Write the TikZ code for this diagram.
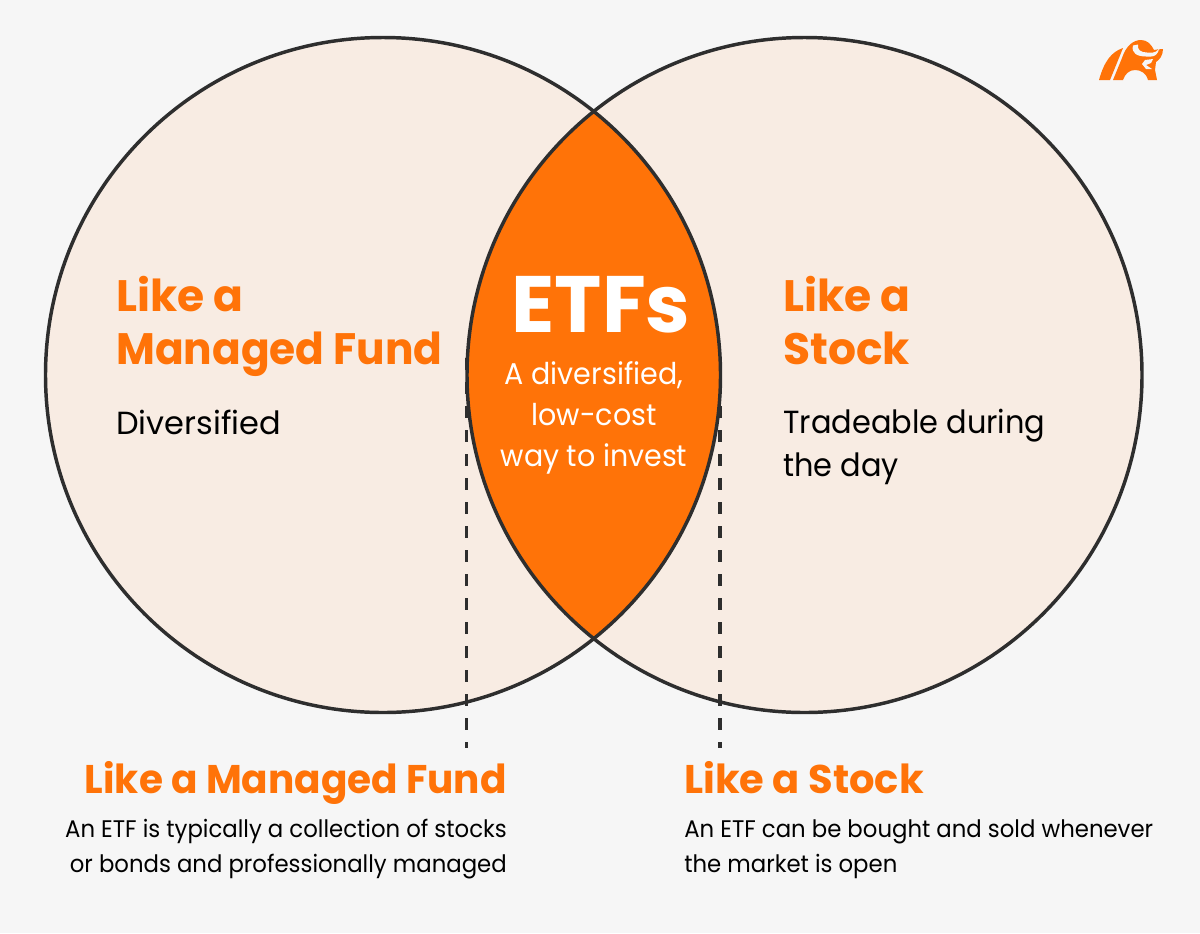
\documentclass[tikz,border=0pt]{standalone}
\usepackage{fontspec}
\setmainfont{Poppins}
\newfontfamily\headfont[FakeStretch=.962]{Poppins}
\newfontfamily\capfont[FakeStretch=.975]{Poppins}
\newfontfamily\copyfont[FakeStretch=.95]{Poppins}
\usetikzlibrary{positioning}
\definecolor{bgpage}{HTML}{F6F6F6}
\definecolor{beige}{HTML}{F8ECE3}
\definecolor{etforange}{HTML}{FF7308}
\definecolor{ink}{HTML}{2E2E2E}

\begin{document}
\begin{tikzpicture}[
		x=.75pt, y=-.75pt
		,venn/.style={circle, minimum size=506.25pt, inner sep=0pt, outer sep=0pt}
		,rim/.style={ink, line width=2.6pt}
		,guide/.style={ink, line width=2.6pt, dash pattern=on 9pt off 9pt}
		,head/.style={etforange, font=\headfont\bfseries\fontsize{33}{39.7}\selectfont, inner sep=0pt}
		,body/.style={black, font=\copyfont\fontsize{24}{32}\selectfont, inner sep=0pt}
		,caption/.style={etforange, font=\capfont\bfseries\fontsize{30}{36}\selectfont, inner sep=0pt}
		,note/.style={black, font=\copyfont\fontsize{18}{26}\selectfont, inner sep=0pt}
	]
		\useasboundingbox (0,0) rectangle (1200,933);
		\fill[bgpage] (0,0) rectangle (1200,933);

		\node[venn, fill=beige] (L) at (383,375) {};
		\node[venn, fill=beige] (R) at (804.5,375) {};

		\coordinate (gl1) at (466.5,358);
		\coordinate (gl2) at (466.5,748);
		\coordinate (gr1) at (720,358);
		\coordinate (gr2) at (720,748);
		\draw[guide] (gl1) -- (gl2);
		\draw[guide] (gr1) -- (gr2);

		% the overlap
		\begin{scope}
			\clip (383,375) circle (337.5);
			\fill[etforange] (804.5,375) circle (337.5);
		\end{scope}
		\draw[rim] (383,375) circle (337.5);
		\draw[rim] (804.5,375) circle (337.5);

		\node[white, font=\bfseries\fontsize{60}{72}\selectfont, inner sep=0pt, anchor=base] (etf) at (601,332) {ETFs};
		\node[white, font=\copyfont\fontsize{22.5}{30.4}\selectfont, inner sep=0pt, align=center, anchor=base] (etftxt) at (594,466) {A diversified,\\low-cost\\way to invest};

		\node[head, align=left, anchor=base west] (lhead) at (116,364) {{\rmfamily\bfseries Like a}\\Managed Fund};
		\node[body, font=\fontsize{24}{32}\selectfont, anchor=base west] (lbody) at (116,434) {Diversified};
		\node[head, font=\bfseries\fontsize{33}{39.7}\selectfont, align=left, anchor=base west] (rhead) at (783,364) {Like a\\Stock};
		\node[body, align=left, anchor=base west] (rbody) at (783,476) {Tradeable during\\the day};

		\node[caption, anchor=base east] (lcap) at (507,793) {Like a Managed Fund};
		\node[note, align=right, anchor=base east] (lnote) at (507,872) {An ETF is typically a collection of stocks\\or bonds and professionally managed};
		\node[caption, font=\bfseries\fontsize{30}{36}\selectfont, anchor=base west] (rcap) at (684,793) {Like a Stock};
		\node[note, align=left, anchor=base west] (rnote) at (684,872) {An ETF can be bought and sold whenever\\the market is open};

		% logo
		\fill[etforange] (1099,80) .. controls (1104,62) and (1111,52) .. (1123,48) -- (1110,80) -- cycle;
		\fill[etforange] (1113,80) -- (1122,58) .. controls (1126,46) and (1133,40) .. (1141,40) .. controls (1147,40) and (1151,44) .. (1154,50) -- (1157,49.5) -- (1163,49) .. controls (1163,56) and (1159,60) .. (1156,62) -- (1155,70) -- (1157,80) -- (1148,80) .. controls (1146,73) and (1141,70) .. (1135,70) .. controls (1129,70) and (1125,74) .. (1123,80) -- cycle;
		\fill[bgpage] (1133,45.5) -- (1138,44.5) .. controls (1137,50) and (1141,52.5) .. (1147,52.5) -- (1153,52.5) .. controls (1155,52.5) and (1157,51) .. (1159,49) .. controls (1158,54) and (1155,56.5) .. (1151,56.5) -- (1146,56.5) .. controls (1137,56.5) and (1131,53) .. (1133,45.5) -- cycle;
		\fill[bgpage] (1145,60) -- (1153,59) -- (1151,63) -- (1146,65) -- (1152,69) -- (1146,69) -- (1142,64) -- cycle;
	\end{tikzpicture}
\end{document}
